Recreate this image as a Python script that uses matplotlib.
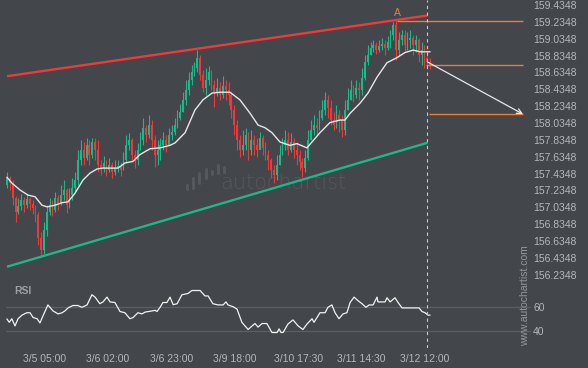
import matplotlib
matplotlib.use("Agg")
import matplotlib.pyplot as plt
import numpy as np

plt.rcParams["font.family"] = ["Liberation Sans", "DejaVu Sans"]

# Data (prices, one candle per index)

first_open = 157.30
closes = [157.38, 157.32, 157.15, 156.98, 157.05, 157.12, 157.06, 157.13, 157.07, 157.03,
          156.94, 156.67, 156.53, 156.77, 156.98, 157.06, 157.00, 157.15, 157.09, 157.18,
          157.24, 157.06, 157.18, 157.26, 157.36, 157.60, 157.72, 157.62, 157.77, 157.66,
          157.81, 157.72, 157.54, 157.50, 157.56, 157.48, 157.54, 157.45, 157.50, 157.53,
          157.48, 157.60, 157.77, 157.83, 157.66, 157.60, 157.72, 157.83, 157.98, 157.89,
          158.01, 157.83, 157.66, 157.72, 157.77, 157.83, 157.77, 157.89, 157.93, 158.01,
          158.09, 158.17, 158.31, 158.43, 158.55, 158.64, 158.69, 158.81, 158.60, 158.45,
          158.55, 158.64, 158.49, 158.40, 158.45, 158.37, 158.47, 158.43, 158.37, 158.19,
          158.01, 157.83, 157.72, 157.77, 157.89, 157.72, 157.83, 157.77, 157.72, 157.86,
          157.74, 157.66, 157.60, 157.48, 157.42, 157.54, 157.66, 157.77, 157.83, 157.72,
          157.81, 157.72, 157.66, 157.57, 157.50, 157.62, 157.83, 157.95, 158.01, 157.98,
          158.09, 158.19, 158.31, 158.21, 158.07, 158.01, 158.13, 158.07, 157.95, 158.19,
          158.31, 158.43, 158.37, 158.45, 158.43, 158.57, 158.76, 158.84, 158.92, 158.96,
          158.90, 158.95, 158.97, 158.92, 159.00, 159.08, 159.20, 158.90, 159.02, 159.08,
          158.96, 159.02, 159.04, 158.96, 159.02, 158.84, 158.90, 158.81, 158.76, 158.72]
highs = [157.45, 157.41, 157.36, 157.17, 157.15, 157.19, 157.16, 157.19, 157.16, 157.12,
         157.06, 156.98, 156.74, 156.86, 157.06, 157.15, 157.12, 157.22, 157.18, 157.30,
         157.36, 157.26, 157.26, 157.38, 157.45, 157.72, 157.83, 157.81, 157.86, 157.83,
         157.86, 157.86, 157.83, 157.60, 157.64, 157.60, 157.62, 157.57, 157.60, 157.60,
         157.57, 157.69, 157.89, 157.92, 157.86, 157.72, 157.80, 157.93, 158.09, 158.01,
         158.13, 158.07, 157.89, 157.83, 157.86, 157.93, 157.89, 157.98, 158.01, 158.09,
         158.19, 158.26, 158.40, 158.55, 158.64, 158.72, 158.76, 158.90, 158.84, 158.66,
         158.69, 158.71, 158.66, 158.55, 158.57, 158.52, 158.59, 158.55, 158.52, 158.40,
         158.25, 158.07, 157.89, 157.95, 157.98, 157.93, 157.95, 157.89, 157.86, 157.93,
         157.89, 157.81, 157.72, 157.62, 157.54, 157.66, 157.77, 157.86, 157.95, 157.93,
         157.92, 157.86, 157.81, 157.72, 157.62, 157.72, 157.95, 158.07, 158.13, 158.09,
         158.19, 158.31, 158.40, 158.37, 158.31, 158.17, 158.25, 158.19, 158.13, 158.31,
         158.45, 158.55, 158.49, 158.55, 158.52, 158.69, 158.84, 158.96, 159.00, 159.02,
         159.00, 159.02, 159.04, 159.02, 159.07, 159.14, 159.23, 159.26, 159.11, 159.14,
         159.14, 159.11, 159.14, 159.08, 159.08, 159.04, 159.00, 158.96, 158.90, 158.81]
lows = [157.26, 157.24, 157.06, 156.86, 156.96, 157.00, 156.98, 157.03, 157.00, 156.96,
        156.86, 156.59, 156.45, 156.48, 156.69, 156.94, 156.93, 156.98, 157.00, 157.06,
        157.12, 156.97, 157.03, 157.12, 157.22, 157.30, 157.54, 157.54, 157.60, 157.54,
        157.62, 157.60, 157.45, 157.42, 157.45, 157.41, 157.45, 157.38, 157.42, 157.45,
        157.41, 157.48, 157.57, 157.72, 157.57, 157.50, 157.54, 157.72, 157.77, 157.81,
        157.86, 157.72, 157.51, 157.54, 157.60, 157.72, 157.69, 157.77, 157.83, 157.89,
        157.98, 158.07, 158.17, 158.25, 158.37, 158.49, 158.59, 158.64, 158.55, 158.40,
        158.37, 158.49, 158.43, 158.22, 158.36, 158.31, 158.33, 158.31, 158.25, 158.09,
        157.89, 157.72, 157.63, 157.66, 157.72, 157.60, 157.66, 157.66, 157.63, 157.74,
        157.66, 157.60, 157.48, 157.38, 157.32, 157.36, 157.54, 157.66, 157.72, 157.66,
        157.69, 157.62, 157.54, 157.48, 157.39, 157.45, 157.60, 157.83, 157.89, 157.88,
        157.95, 158.07, 158.13, 158.09, 158.01, 157.95, 157.98, 157.93, 157.87, 157.89,
        158.19, 158.31, 158.28, 158.33, 158.31, 158.37, 158.55, 158.72, 158.84, 158.88,
        158.85, 158.88, 158.90, 158.84, 158.90, 158.92, 159.02, 158.78, 158.84, 158.96,
        158.88, 158.90, 158.92, 158.84, 158.88, 158.76, 158.72, 158.69, 158.69, 158.68]

ma_idx = [0, 1.8, 4.6, 7.4, 9.9, 12.3, 14.1, 16.9, 19.4, 21.5, 23.9, 26.8, 29.2, 31.7,
          33.8, 39.1, 41.5, 44.4, 46.8, 50.4, 53.9, 57.4, 59.2, 62.7, 66.2, 69.0, 72.2,
          75.0, 78.5, 82.0, 85.6, 88.4, 90.8, 93.3, 96.1, 99.6, 102.1, 105.6, 110.2,
          113.7, 117.3, 119.0, 120.8, 124.3, 127.1, 130.3, 133.8, 137.3, 140.1, 143.0,
          145.4, 148.9]
ma_val = [157.39, 157.32, 157.24, 157.18, 157.16, 157.06, 157.04, 157.06, 157.09, 157.10,
          157.20, 157.36, 157.44, 157.49, 157.50, 157.50, 157.56, 157.58, 157.66, 157.73,
          157.74, 157.77, 157.80, 157.92, 158.19, 158.31, 158.39, 158.40, 158.40, 158.31,
          158.15, 158.01, 157.98, 157.92, 157.81, 157.77, 157.79, 157.74, 157.92, 158.04,
          158.07, 158.07, 158.15, 158.27, 158.39, 158.58, 158.75, 158.81, 158.87, 158.90,
          158.88, 158.88]

rsi_idx = [0, 0.8, 1.7, 2.8, 3.9, 5.3, 7.0, 8.1, 9.2, 10.6,
           11.6, 12.7, 14.4, 16.2, 18.0, 19.4, 20.4, 21.5, 23.2, 25.0,
           26.4, 28.2, 29.9, 31.0, 32.7, 33.8, 35.2, 36.3, 38.0, 39.8,
           41.5, 43.3, 44.4, 46.1, 47.5, 48.6, 51.1, 52.1, 52.8, 53.9,
           54.9, 56.3, 57.4, 58.5, 59.9, 61.6, 63.7, 65.1, 68.0, 69.7,
           70.8, 72.5, 74.3, 76.1, 77.1, 77.8, 79.6, 81.0, 82.7, 83.8,
           84.9, 86.3, 87.3, 88.4, 89.8, 91.5, 93.3, 95.1, 95.8, 96.5,
           97.2, 98.9, 100.7, 102.5, 104.2, 105.6, 107.4, 108.1, 110.2, 112.0,
           113.0, 114.4, 115.5, 116.9, 118.3, 119.7, 120.8, 122.2, 123.6, 125.0,
           126.4, 127.5, 128.9, 130.3, 130.6, 133.1, 133.8, 134.9, 136.6, 137.7,
           139.1, 143.7, 145.1, 146.1, 147.2, 148.2, 148.9]
rsi_val = [49.7, 47, 50, 44, 50, 53, 55, 55, 51, 50,
           46.5, 52.5, 61.5, 56.5, 54, 55, 56.5, 59, 61, 61,
           59.5, 61.5, 70, 68, 62.5, 64, 68, 64, 63.5, 56,
           55, 50, 51, 55, 54, 55.5, 56.5, 57, 56, 59.5,
           63.5, 63.5, 68, 61.7, 62.5, 70, 71, 73.5, 73.5, 69,
           69, 62.5, 61.5, 61.5, 64, 61.5, 60, 58, 47, 44,
           41, 44, 46, 43, 46, 46, 38.5, 38.5, 41.5, 38.5,
           38.5, 45.5, 49, 44, 41, 45.5, 50, 47, 55, 55,
           59.5, 61.5, 55, 50, 54, 55, 63.5, 68, 65, 62.5,
           59.5, 61.5, 61.5, 68, 64, 64, 67.5, 64, 67.5, 63.5,
           59, 59, 59, 56, 55, 53, 53]

# channel lines (candle index, price)
resist_idx = [0, 148]
resist_val = [158.59, 159.31]
support_idx = [0, 148]
support_val = [156.33, 157.80]

# pattern point A and forecast
point_a_idx = 137
point_a_val = 159.26
now_idx = 148
target_idx = 181.7
levels = [159.25, 158.72, 158.14]
level_start = [137.3, 147.5, 148.6]
arrow_from = 158.76

price_ticks = [156.2348, 156.4348, 156.6348, 156.8348, 157.0348, 157.2348, 157.4348,
               157.6348, 157.8348, 158.0348, 158.2348, 158.4348, 158.6348, 158.8348,
               159.0348, 159.2348, 159.4348]
rsi_ticks = [40, 60]
time_idx = [13.4, 35.6, 58.1, 80.3, 102.5, 124.6, 147.2]
time_labels = ["3/5 05:00", "3/6 02:00", "3/6 23:00", "3/9 18:00",
               "3/10 17:30", "3/11 14:30", "3/12 12:00"]

# Style

bg = "#43464b"
up_color = "#1db887"
down_color = "#f0383b"
orange = "#f07c33"
label_color = "#b3b6ba"
faint = "#55585d"

W, H = 588, 368
fig = plt.figure(figsize=(W / 100, H / 100), dpi=100, facecolor=bg)
ax = fig.add_axes([6 / W, 1 - 282 / H, 525 / W, 282 / H], facecolor=bg)
rax = fig.add_axes([6 / W, 1 - 348 / H, 525 / W, 66 / H], facecolor=bg)

xlim = (-0.35, 184.5)

# Watermark

for bx, b0, b1 in [(0.345, 0.33, 0.345), (0.356, 0.335, 0.37), (0.368, 0.352, 0.386),
                   (0.380, 0.37, 0.40), (0.392, 0.382, 0.392), (0.404, 0.385, 0.415),
                   (0.416, 0.39, 0.408)]:
    ax.plot([bx, bx], [b0, b1], color=faint, lw=2.2, solid_capstyle="round",
            transform=ax.transAxes, zorder=0)
ax.text(0.408, 0.33, "autochartist", transform=ax.transAxes, color=faint,
        fontsize=15, family="DejaVu Sans", fontweight="light", va="baseline", zorder=0)

# Candles

idx = np.arange(len(closes))
closes = np.array(closes)
opens = np.concatenate([[first_open], closes[:-1]])
colors = [up_color if c >= o else down_color for o, c in zip(opens, closes)]
ax.vlines(idx, lows, highs, colors=colors, lw=0.8, zorder=2)
ax.bar(idx, closes - opens, bottom=opens, width=0.62, color=colors, lw=0, zorder=3)

ax.plot(ma_idx, ma_val, color="#e6e6e6", lw=1.0, zorder=4)

# Channel and forecast

ax.plot(resist_idx, resist_val, color="#f03a3a", lw=1.7, solid_capstyle="butt", zorder=5)
ax.plot(support_idx, support_val, color="#1db887", lw=1.7, solid_capstyle="butt", zorder=5)
ax.hlines(levels, level_start, target_idx, colors=orange, lw=1.0, zorder=5)
ax.annotate("A", xy=(point_a_idx, point_a_val), xytext=(1, 1.5), textcoords="offset points",
            ha="center", va="bottom", color="#e0804a", fontsize=7.5)
ax.annotate("", xy=(target_idx, levels[2]), xytext=(now_idx, arrow_from),
            arrowprops=dict(arrowstyle="->", color="#e8e8e8", lw=0.9,
                            shrinkA=0, shrinkB=0, mutation_scale=9), zorder=6)
ax.axvline(now_idx, color="#c8c8c8", lw=0.8, ls=(0, (3, 3)), zorder=6)

ax.set_xlim(*xlim)
ax.set_ylim(156.149, 159.494)
ax.set_xticks([])
ax.yaxis.tick_right()
ax.set_yticks(price_ticks)
ax.set_yticklabels([f"{p:.4f}" for p in price_ticks])
ax.tick_params(axis="y", length=0, pad=1.5, labelsize=7.5, labelcolor=label_color)
for s in ax.spines.values():
    s.set_visible(False)

# RSI

for r in rsi_ticks:
    rax.axhline(r, color="#5b5e63", lw=0.9, zorder=1)
rax.plot(rsi_idx, rsi_val, color="#f2f2f2", lw=0.9, zorder=3)
rax.axvline(now_idx, color="#c8c8c8", lw=0.8, ls=(0, (3, 3)), zorder=4)
rax.text(0.015, 0.86, "RSI", transform=rax.transAxes, color="#9c9fa4",
         fontsize=7.5, fontweight="bold", va="center", ha="left")
rax.set_xlim(*xlim)
rax.set_ylim(25.6, 80.6)
rax.yaxis.tick_right()
rax.set_yticks(rsi_ticks)
rax.set_xticks(time_idx)
rax.set_xticklabels(time_labels)
rax.tick_params(axis="y", length=0, pad=1.5, labelsize=7.5, labelcolor=label_color)
rax.tick_params(axis="x", length=0, pad=4, labelsize=7.5, labelcolor=label_color)
for s in rax.spines.values():
    s.set_visible(False)

fig.text(525 / W, 1 - 296 / H, "www.autochartist.com", rotation=90, ha="center",
         va="center", color="#94979c", fontsize=7.5)

fig.savefig("out.png", dpi=100, facecolor=bg)
